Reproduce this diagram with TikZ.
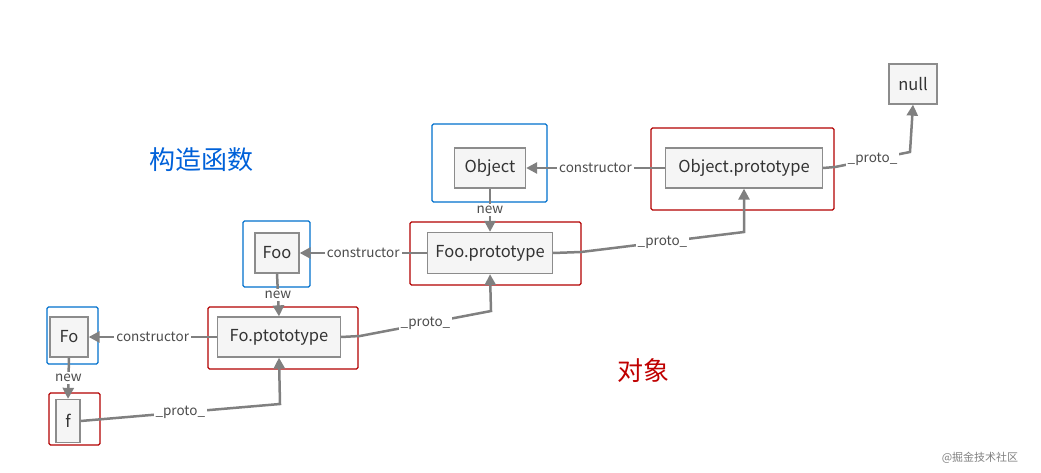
\documentclass[tikz,border=0pt]{standalone}
\usepackage{fontspec}
\setmainfont{Noto Sans CJK SC}
\usetikzlibrary{arrows.meta}
\begin{document}
\begin{tikzpicture}[x=1pt,y=-1pt,
  inner/.style={draw=black!45,fill=black!4,line width=1.3pt,font=\fontsize{16.5}{16.5}\selectfont,text=black!80,inner sep=0pt},
  bluebox/.style={draw=blue!45!cyan!80!black,line width=1.1pt,rounded corners=1.5pt},
  redbox/.style={draw=red!70!black,line width=1.3pt,rounded corners=1.5pt},
  conn/.style={draw=black!50,line width=2.5pt,-{Triangle[length=11pt,width=11pt]}},
  lab/.style={fill=white,font=\fontsize{13.5}{13.5}\selectfont,text=black!70,inner sep=2pt}]
\useasboundingbox (0,0) rectangle (1041,473);
% outer frames
\draw[bluebox] (47,307) rectangle (98,364);
\draw[redbox] (49,393) rectangle (100,445);
\draw[redbox] (208,307) rectangle (358,369);
\draw[bluebox] (243,221) rectangle (310,287);
\draw[redbox] (410,222) rectangle (581,285);
\draw[bluebox] (432,124) rectangle (547,202);
\draw[redbox] (651,128) rectangle (834,210);
% inner nodes
\node[inner,minimum width=38pt,minimum height=40pt] (Fo) at (69,337) {Fo};
\node[inner,minimum width=24pt,minimum height=43pt] (f) at (68,421) {f};
\node[inner,minimum width=123pt,minimum height=40pt] (Fp) at (279,337) {Fo.ptototype};
\node[inner,minimum width=44pt,minimum height=40pt] (Foo) at (277,253) {Foo};
\node[inner,minimum width=125pt,minimum height=41pt] (Foop) at (490,253) {Foo.prototype};
\node[inner,minimum width=71pt,minimum height=40pt] (Obj) at (490,168) {Object};
\node[inner,minimum width=157pt,minimum height=40pt] (Objp) at (744,168) {Object.prototype};
\node[inner,minimum width=48pt,minimum height=40pt] (null) at (913,84) {null};
% constructor
\draw[conn] (Fp.west) -- node[lab]{constructor} (Fo.east);
\draw[conn] (Foop.west) -- node[lab]{constructor} (Foo.east);
\draw[conn] (Objp.west) -- node[lab]{constructor} (Obj.east);
% new
\draw[conn] (Fo.south) -- node[lab]{new} (f.north);
\draw[conn] (Foo.south) -- node[lab]{new} (Fp.north);
\draw[conn] (Obj.south) -- node[lab]{new} (Foop.north);
% proto
\coordinate (b1) at (280,404);
\coordinate (b2) at (491,311);
\coordinate (b3) at (744,232);
\coordinate (b4) at (910,152);
\coordinate (s3) at (835,167);
\draw[conn] (f.east) -- node[lab,pos=0.5]{\_proto\_} (b1) -- (Fp.south);
\draw[conn] (Fp.east) -- (360,336) -- node[lab]{\_proto\_} (b2) -- (Foop.south);
\draw[conn] (Foop.east) -- (581,252) -- node[lab]{\_proto\_} (b3) -- (Objp.south);
\draw[conn] (Objp.east) -- (s3) -- node[lab]{\_proto\_} (b4) -- (null.south);
% captions
\node[text=blue!55!cyan!85!black,font=\fontsize{26}{26}\selectfont] (t1) at (201,160) {构造函数};
\node[text=red!75!black,font=\fontsize{26}{26}\selectfont] (t2) at (643,371) {对象};
\node[text=black!50,font=\fontsize{11}{11}\selectfont] (wm) at (980,458) {@掘金技术社区};
\end{tikzpicture}
\end{document}
